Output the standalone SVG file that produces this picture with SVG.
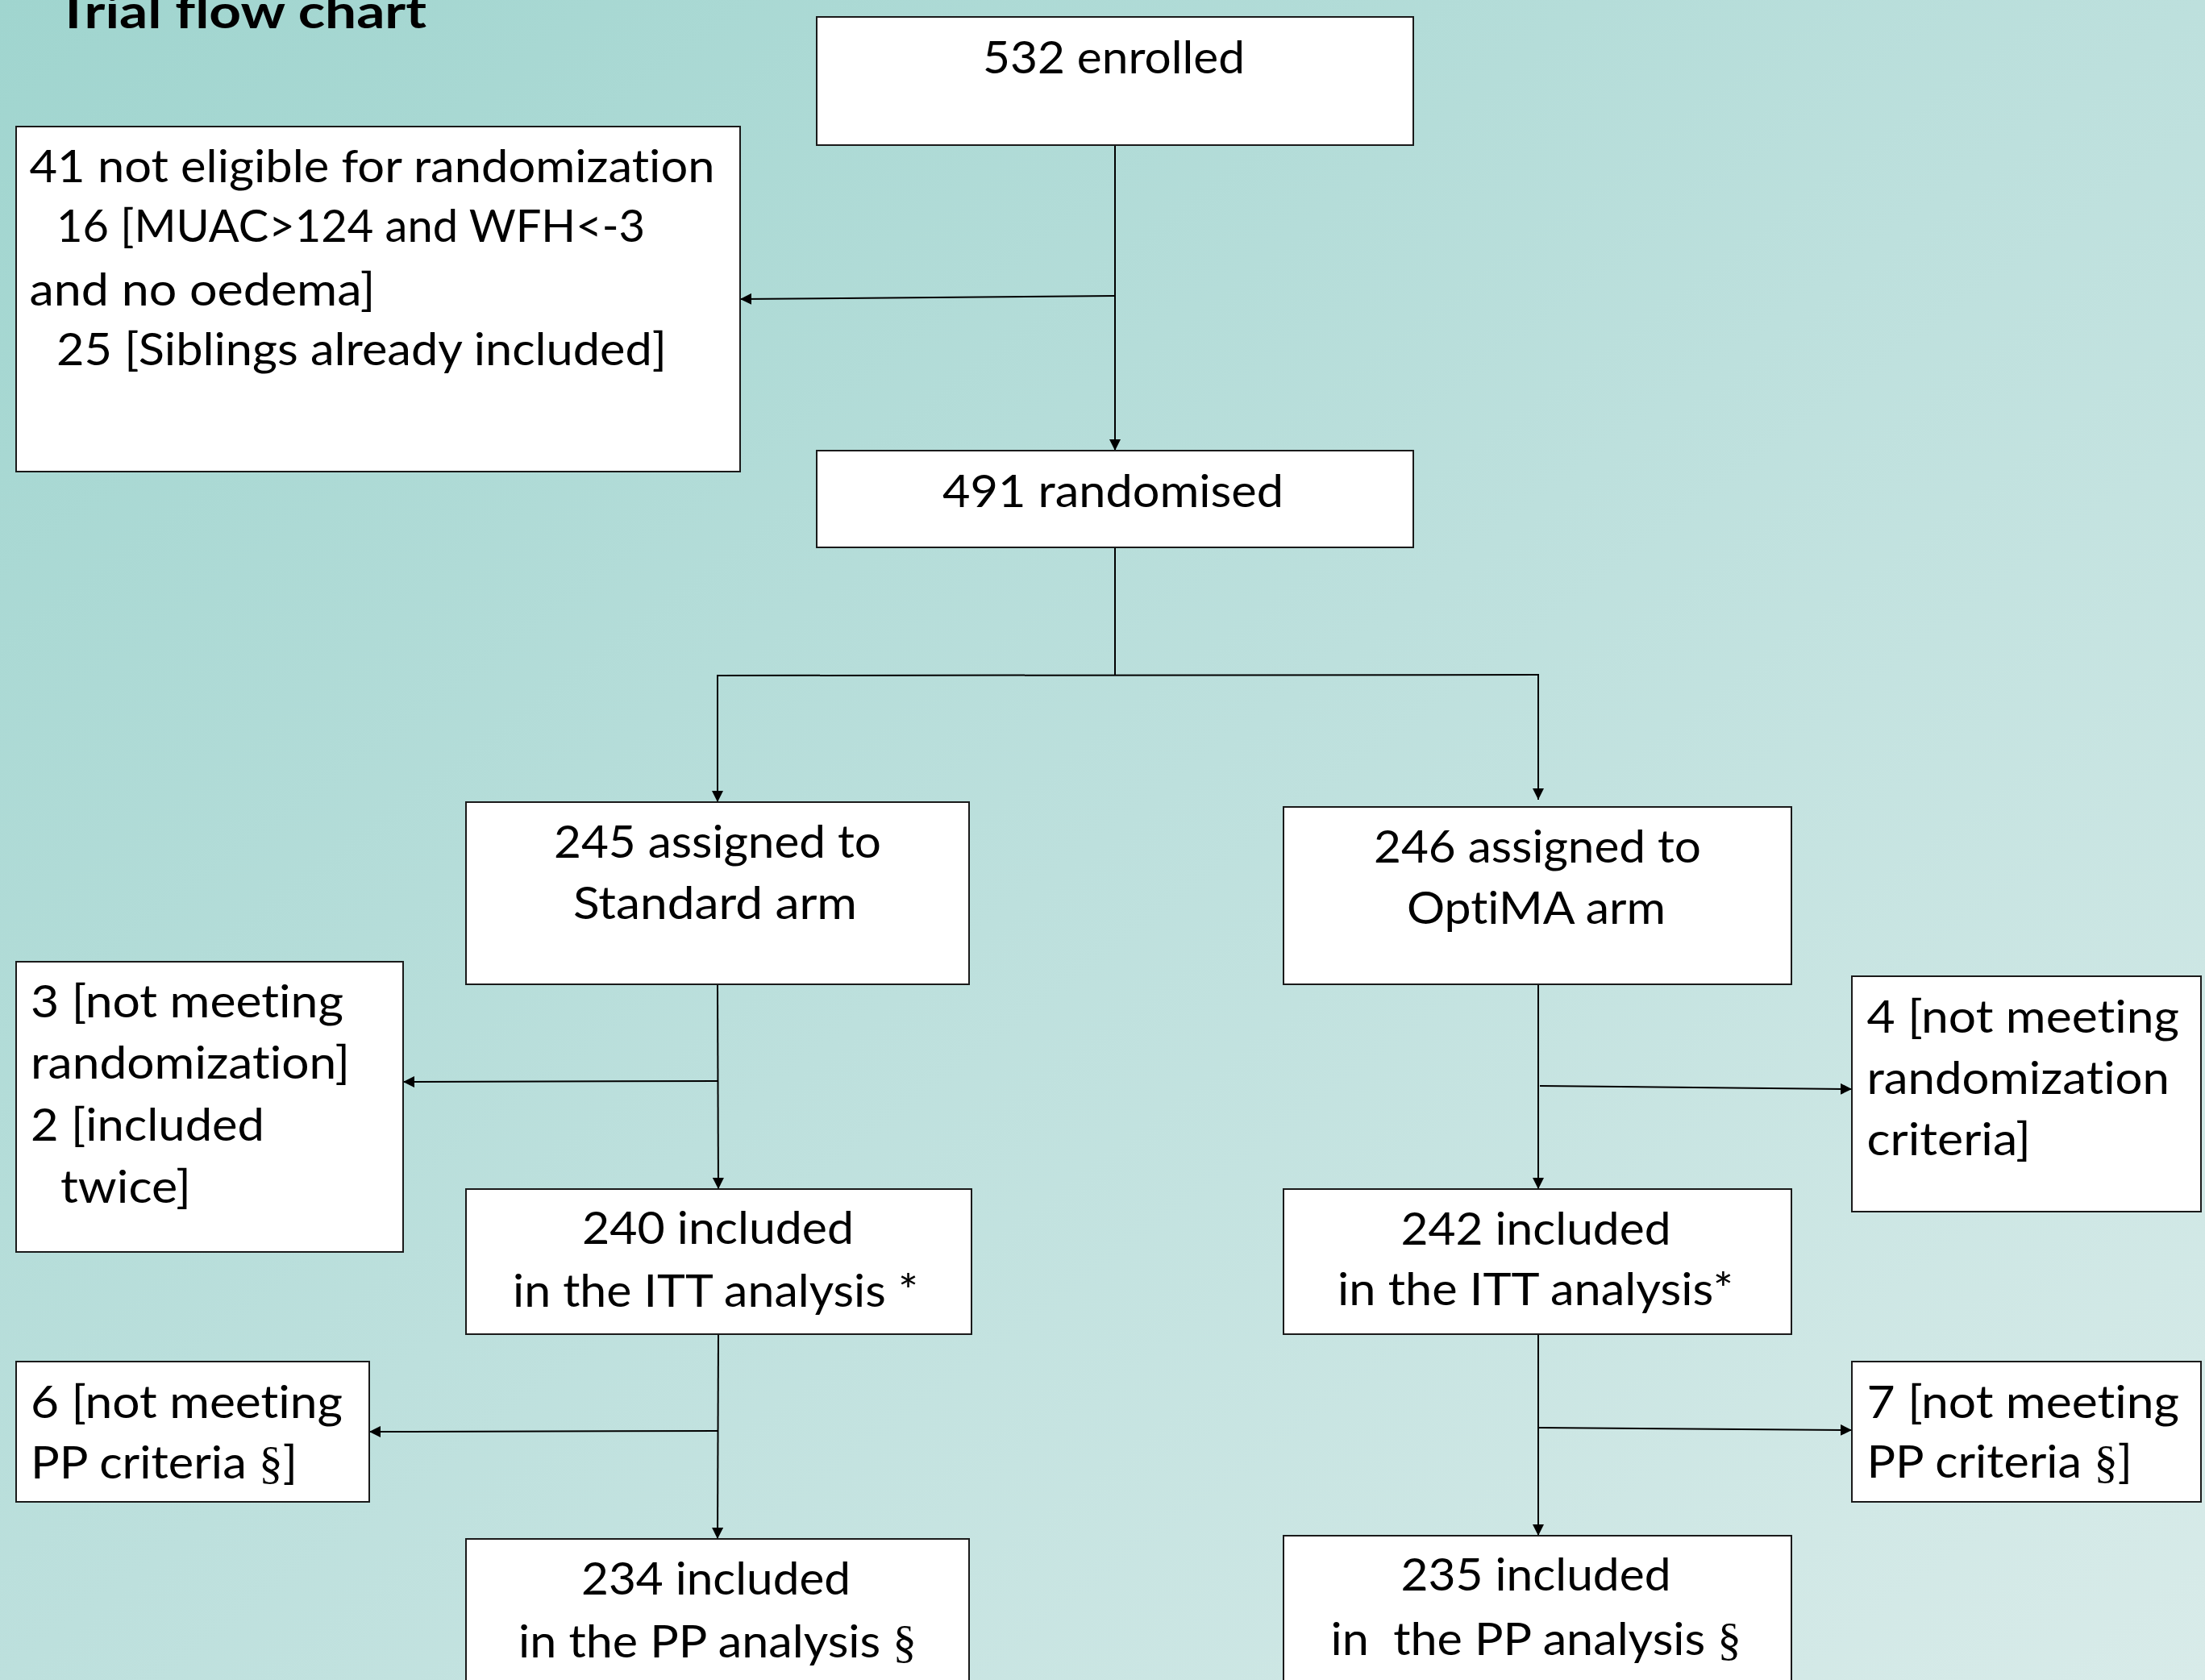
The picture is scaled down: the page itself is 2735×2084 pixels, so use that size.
<svg xmlns="http://www.w3.org/2000/svg" width="2735" height="2084" viewBox="0 0 2735 2084">
<defs>
<linearGradient id="bg" x1="0" y1="0" x2="1" y2="1">
<stop offset="0" stop-color="#a0d5cf"/>
<stop offset="0.5" stop-color="#bde0dd"/>
<stop offset="1" stop-color="#d8ebe9"/>
</linearGradient>
<marker id="arr" viewBox="0 0 14 14" refX="14" refY="7" markerWidth="14" markerHeight="14" markerUnits="userSpaceOnUse" orient="auto">
<path d="M0,0 L14,7 L0,14 z" fill="#000"/>
</marker>
<style>
.box{fill:#fff;stroke:#1a1a1a;stroke-width:2}
.t{font-family:Lato,"Open Sans","Liberation Sans",sans-serif;font-size:57px;fill:#000;font-variant-ligatures:none}
.title{font-family:Lato,"Open Sans","Liberation Sans",sans-serif;font-size:58px;font-weight:700;fill:#000;font-variant-ligatures:none}
.sec{font-family:"Liberation Serif","DejaVu Serif",serif}
.ln{stroke:#000;stroke-width:2;fill:none}
.ar{marker-end:url(#arr)}
</style>
</defs>
<rect x="0" y="0" width="2735" height="2084" fill="url(#bg)"/>
<text class="title" x="70" y="35" textLength="459" lengthAdjust="spacingAndGlyphs">Trial flow chart</text>

<g id="connectors">
<line class="ln ar" x1="1383" y1="180" x2="1383" y2="559"/>
<line class="ln ar" x1="1383" y1="367" x2="918" y2="371"/>
<line class="ln" x1="1383" y1="679" x2="1383" y2="838"/>
<line class="ln" x1="889" y1="838" x2="1909" y2="837"/>
<line class="ln ar" x1="890" y1="838" x2="890" y2="995"/>
<line class="ln ar" x1="1908" y1="837" x2="1908" y2="992"/>
<line class="ln ar" x1="890" y1="1221" x2="891" y2="1475"/>
<line class="ln ar" x1="890" y1="1341" x2="500" y2="1342"/>
<line class="ln ar" x1="891" y1="1655" x2="890" y2="1909"/>
<line class="ln ar" x1="891" y1="1775" x2="458" y2="1776"/>
<line class="ln ar" x1="1908" y1="1221" x2="1908" y2="1475"/>
<line class="ln ar" x1="1910" y1="1347" x2="2297" y2="1351"/>
<line class="ln ar" x1="1908" y1="1655" x2="1908" y2="1905"/>
<line class="ln ar" x1="1909" y1="1771" x2="2297" y2="1774"/>
</g>

<g id="n-enrolled">
<rect class="box" x="1013" y="21" width="740" height="159"/>
<text class="t" x="1219" y="91" textLength="325" lengthAdjust="spacingAndGlyphs">532 enrolled</text>
</g>
<g id="n-noteligible">
<rect class="box" x="20" y="157" width="898" height="428"/>
<text class="t" x="36.5" y="226" textLength="850" lengthAdjust="spacingAndGlyphs">41 not eligible for randomization</text>
<text class="t" x="70" y="300" textLength="730" lengthAdjust="spacingAndGlyphs">16 [MUAC&gt;124 and WFH&lt;-3</text>
<text class="t" x="36.5" y="379" textLength="429" lengthAdjust="spacingAndGlyphs">and no oedema]</text>
<text class="t" x="70" y="453" textLength="757" lengthAdjust="spacingAndGlyphs">25 [Siblings already included]</text>
</g>
<g id="n-randomised">
<rect class="box" x="1013" y="559" width="740" height="120"/>
<text class="t" x="1169" y="629" textLength="423" lengthAdjust="spacingAndGlyphs">491 randomised</text>
</g>
<g id="n-standard">
<rect class="box" x="578" y="995" width="624" height="226"/>
<text class="t" x="687" y="1064" textLength="406" lengthAdjust="spacingAndGlyphs">245 assigned to</text>
<text class="t" x="711" y="1140" textLength="352" lengthAdjust="spacingAndGlyphs">Standard arm</text>
</g>
<g id="n-optima">
<rect class="box" x="1592" y="1001" width="630" height="220"/>
<text class="t" x="1704" y="1069.5" textLength="406" lengthAdjust="spacingAndGlyphs">246 assigned to</text>
<text class="t" x="1745" y="1145.5" textLength="321" lengthAdjust="spacingAndGlyphs">OptiMA arm</text>
</g>
<g id="n-excl-standard">
<rect class="box" x="20" y="1193" width="480" height="360"/>
<text class="t" x="38" y="1261.6" textLength="388" lengthAdjust="spacingAndGlyphs">3 [not meeting</text>
<text class="t" x="38" y="1337.5" textLength="396" lengthAdjust="spacingAndGlyphs">randomization]</text>
<text class="t" x="38" y="1414.7" textLength="290" lengthAdjust="spacingAndGlyphs">2 [included</text>
<text class="t" x="75" y="1491.5" textLength="162" lengthAdjust="spacingAndGlyphs">twice]</text>
</g>
<g id="n-excl-optima">
<rect class="box" x="2297" y="1211" width="433" height="292"/>
<text class="t" x="2315.5" y="1281" textLength="387.5" lengthAdjust="spacingAndGlyphs">4 [not meeting</text>
<text class="t" x="2315.5" y="1356.7" textLength="375.5" lengthAdjust="spacingAndGlyphs">randomization</text>
<text class="t" x="2315.5" y="1432.6" textLength="203.5" lengthAdjust="spacingAndGlyphs">criteria]</text>
</g>
<g id="n-itt-standard">
<rect class="box" x="578" y="1475" width="627" height="180"/>
<text class="t" x="722" y="1543" textLength="337" lengthAdjust="spacingAndGlyphs">240 included</text>
<text class="t" x="636" y="1620.5" textLength="503" lengthAdjust="spacingAndGlyphs">in the ITT analysis *</text>
</g>
<g id="n-itt-optima">
<rect class="box" x="1592" y="1475" width="630" height="180"/>
<text class="t" x="1737.5" y="1544" textLength="335" lengthAdjust="spacingAndGlyphs">242 included</text>
<text class="t" x="1659" y="1619" textLength="491" lengthAdjust="spacingAndGlyphs">in the ITT analysis*</text>
</g>
<g id="n-pp-excl-standard">
<rect class="box" x="20" y="1689" width="438" height="174"/>
<text class="t" x="38" y="1759" textLength="387" lengthAdjust="spacingAndGlyphs">6 [not meeting</text>
<text class="t" x="38" y="1834" textLength="331" lengthAdjust="spacingAndGlyphs">PP criteria <tspan class="sec">§</tspan>]</text>
</g>
<g id="n-pp-excl-optima">
<rect class="box" x="2297" y="1689" width="433" height="174"/>
<text class="t" x="2315.5" y="1758.5" textLength="387.5" lengthAdjust="spacingAndGlyphs">7 [not meeting</text>
<text class="t" x="2315.5" y="1833" textLength="329.5" lengthAdjust="spacingAndGlyphs">PP criteria <tspan class="sec">§</tspan>]</text>
</g>
<g id="n-pp-standard">
<rect class="box" x="578" y="1909" width="624" height="200"/>
<text class="t" x="721" y="1978" textLength="334" lengthAdjust="spacingAndGlyphs">234 included</text>
<text class="t" x="643" y="2056" textLength="494" lengthAdjust="spacingAndGlyphs">in the PP analysis <tspan class="sec">§</tspan></text>
</g>
<g id="n-pp-optima">
<rect class="box" x="1592" y="1905" width="630" height="200"/>
<text class="t" x="1737.5" y="1973" textLength="335" lengthAdjust="spacingAndGlyphs">235 included</text>
<text class="t" x="1650.5" y="2053" textLength="509.5" lengthAdjust="spacingAndGlyphs" style="white-space:pre">in  the PP analysis <tspan class="sec">§</tspan></text>
</g>
</svg>
